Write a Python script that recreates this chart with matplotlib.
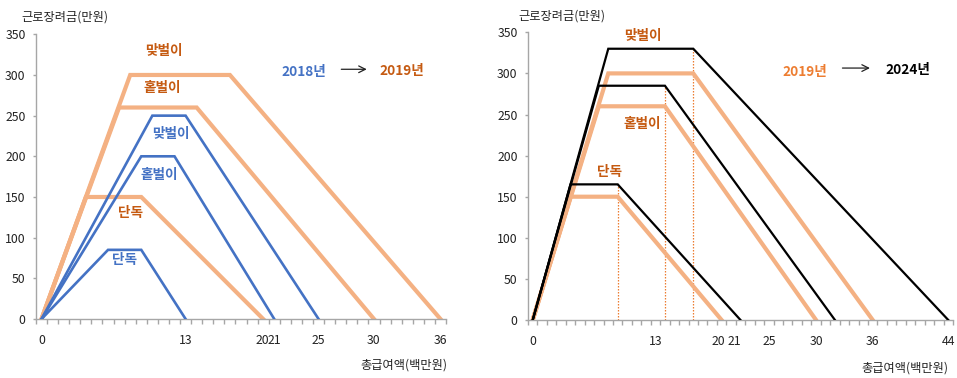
import matplotlib
matplotlib.use("Agg")
import matplotlib.pyplot as plt
from matplotlib.ticker import FixedLocator
from matplotlib.transforms import ScaledTranslation

plt.rcParams['font.family'] = ['Noto Sans CJK KR', 'DejaVu Sans']

# Earned income tax credit schedule: total wage (백만원) vs credit (만원)
# 2018 schedule
x18_single = [0, 6, 9, 13]
y18_single = [0, 85, 85, 0]
x18_one = [0, 9, 12, 21]
y18_one = [0, 200, 200, 0]
x18_dual = [0, 10, 13, 25]
y18_dual = [0, 250, 250, 0]

# 2019 schedule
x19_single = [0, 4, 9, 20]
y19_single = [0, 150, 150, 0]
x19_one = [0, 7, 14, 30]
y19_one = [0, 260, 260, 0]
x19_dual = [0, 8, 17, 36]
y19_dual = [0, 300, 300, 0]

# 2024 schedule
x24_single = [0, 4, 9, 22]
y24_single = [0, 165, 165, 0]
x24_one = [0, 7, 14, 32]
y24_one = [0, 285, 285, 0]
x24_dual = [0, 8, 17, 44]
y24_dual = [0, 330, 330, 0]

left_xticks = [0, 13, 20, 21, 25, 30, 36]
right_xticks = [0, 13, 20, 21, 25, 30, 36, 44]
yticks = [0, 50, 100, 150, 200, 250, 300, 350]

ylabel = '근로장려금(만원)'
xlabel = '총급여액(백만원)'
lbl_single, lbl_one, lbl_dual = '단독', '홑벌이', '맞벌이'

BLUE = '#4472C4'
LORANGE = '#F4B183'
DORANGE = '#C55A11'
MORANGE = '#ED7D31'
GRAY = '#A6A6A6'

fig = plt.figure(figsize=(9.57, 3.78), dpi=100)
axL = fig.add_axes([36 / 957, 1 - 319 / 378, (446 - 36) / 957, (319 - 34.3) / 378])
axR = fig.add_axes([528 / 957, 1 - 320 / 378, (953 - 528) / 957, (320 - 32.3) / 378])


def style_axes(ax, xmax, xt):
    ax.set_xlim(-0.5, xmax + 0.5)
    ax.set_ylim(0, 350)
    for s in ('top', 'right'):
        ax.spines[s].set_visible(False)
    for s in ('left', 'bottom'):
        ax.spines[s].set_color(GRAY)
        ax.spines[s].set_linewidth(1.0)
    ax.set_yticks(yticks)
    ax.set_xticks(xt)
    ax.set_xticklabels([str(v) for v in xt])
    ax.xaxis.set_minor_locator(FixedLocator([k + 0.5 for k in range(-1, xmax + 1)]))
    ax.tick_params(axis='x', which='major', length=0, pad=10.5, labelsize=8.8, colors='#222222')
    ax.tick_params(axis='x', which='minor', length=3.5, width=1.0, color=GRAY, direction='out')
    ax.tick_params(axis='y', which='major', length=2.5, width=1.0, color=GRAY, pad=5,
                   labelsize=8.8, labelcolor='#222222')
    ax.patch.set_alpha(0)


style_axes(axL, 36, left_xticks)
style_axes(axR, 44, right_xticks)

# nudge the neighbouring 20 / 21 labels apart
for ax, dx in ((axL, 0.6), (axR, 3.5)):
    for lab, v in zip(ax.get_xticklabels(), ax.get_xticks()):
        if v == 20:
            lab.set_transform(lab.get_transform() + ScaledTranslation(-dx / 100, 0, fig.dpi_scale_trans))
        elif v == 21:
            lab.set_transform(lab.get_transform() + ScaledTranslation(dx / 100, 0, fig.dpi_scale_trans))

# ---- left panel: 2018 -> 2019
for xs, ys in ((x19_single, y19_single), (x19_one, y19_one), (x19_dual, y19_dual)):
    axL.plot(xs, ys, color=LORANGE, lw=3.0, solid_joinstyle='miter', zorder=2)
for xs, ys in ((x18_single, y18_single), (x18_one, y18_one), (x18_dual, y18_dual)):
    axL.plot(xs, ys, color=BLUE, lw=1.9, solid_joinstyle='miter', zorder=3)

tkw = dict(ha='center', va='center', fontsize=9.8, fontweight='bold')
axL.text(11.05, 330, lbl_dual, color=DORANGE, **tkw)
axL.text(10.9, 284, lbl_one, color=DORANGE, **tkw)
axL.text(11.7, 228, lbl_dual, color=BLUE, **tkw)
axL.text(10.6, 177, lbl_one, color=BLUE, **tkw)
axL.text(8.0, 130, lbl_single, color=DORANGE, **tkw)
axL.text(7.5, 72, lbl_single, color=BLUE, **tkw)
axL.text(23.7, 304, '2018년', color=BLUE, **tkw)
axL.text(32.5, 305, '2019년', color=DORANGE, **tkw)
axL.annotate('', xy=(29.6, 307), xytext=(26.8, 307),
             arrowprops=dict(arrowstyle='->', color='#222222', lw=0.9, mutation_scale=12))

# ---- right panel: 2019 -> 2024
for xs, ys in ((x24_single, y24_single), (x24_one, y24_one), (x24_dual, y24_dual)):
    axR.plot([xs[2], xs[2]], [0, ys[2]], color=MORANGE, lw=0.9, ls=(0, (1.2, 1.2)), zorder=1)
for xs, ys in ((x19_single, y19_single), (x19_one, y19_one), (x19_dual, y19_dual)):
    axR.plot(xs, ys, color=LORANGE, lw=3.0, solid_joinstyle='miter', zorder=2)
for xs, ys in ((x24_single, y24_single), (x24_one, y24_one), (x24_dual, y24_dual)):
    axR.plot(xs, ys, color='black', lw=1.6, solid_joinstyle='miter', zorder=3)

axR.text(11.7, 345, lbl_dual, color=DORANGE, **tkw)
axR.text(11.6, 238, lbl_one, color=DORANGE, **tkw)
axR.text(8.1, 180, lbl_single, color=DORANGE, **tkw)
axR.text(28.8, 302, '2019년', color=MORANGE, **tkw)
axR.text(39.7, 304, '2024년', color='black', **tkw)
axR.annotate('', xy=(36.0, 306.5), xytext=(32.5, 306.5),
             arrowprops=dict(arrowstyle='->', color='#222222', lw=0.9, mutation_scale=12))

# axis titles
fig.text(65 / 957, 1 - 17 / 378, ylabel, ha='center', va='center', fontsize=8.8, color='#222222')
fig.text(562 / 957, 1 - 16 / 378, ylabel, ha='center', va='center', fontsize=8.8, color='#222222')
fig.text(404 / 957, 1 - 365 / 378, xlabel, ha='center', va='center', fontsize=8.8, color='#222222')
fig.text(905 / 957, 1 - 368 / 378, xlabel, ha='center', va='center', fontsize=8.8, color='#222222')

fig.savefig('out.png', dpi=100)
